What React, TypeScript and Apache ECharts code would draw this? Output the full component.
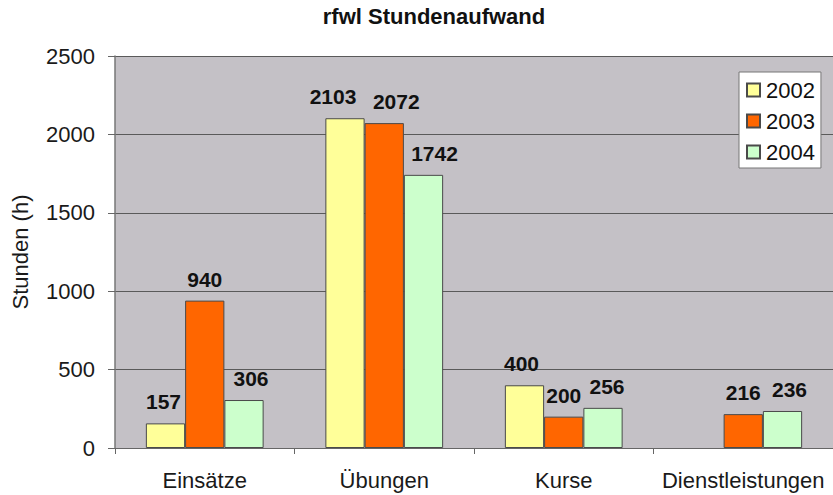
import React, { useEffect, useRef } from "react";
import * as echarts from "echarts";

const categories = ["Einsätze", "Übungen", "Kurse", "Dienstleistungen"];
const years = ["2002", "2003", "2004"];
const values2002: (number | null)[] = [157, 2103, 400, null];
const values2003: (number | null)[] = [940, 2072, 200, 216];
const values2004: (number | null)[] = [306, 1742, 256, 236];
const yTicks = [0, 500, 1000, 1500, 2000, 2500];

const colors = ["#ffff99", "#ff6600", "#ccffcc"];
const labelNudge = [
  [-2, -12, -3, 0],
  [0, 12, 0, 0],
  [7, 11, 4, 7],
];

const FONT = "'Liberation Sans', Arial, sans-serif";

export default function App() {
  const ref = useRef<HTMLDivElement>(null);
  useEffect(() => {
    if (!ref.current) return;
    const chart = echarts.init(ref.current, null, { renderer: "svg" });
    const seriesValues = [values2002, values2003, values2004];
    chart.setOption({
      animation: false,
      backgroundColor: "#ffffff",
      textStyle: { fontFamily: FONT },
      graphic: [
        {
          type: "text",
          x: 434,
          y: 5,
          style: {
            text: "rfwl Stundenaufwand",
            fontFamily: FONT,
            fontSize: 22,
            fontWeight: "bold",
            fill: "#111",
            textAlign: "center",
            textVerticalAlign: "top",
          },
        },
      ],
      legend: {
        orient: "vertical",
        left: 739,
        top: 72,
        padding: [7, 6, 5, 7],
        itemGap: 9,
        itemWidth: 13,
        itemHeight: 13,
        icon: "rect",
        backgroundColor: "#ffffff",
        borderColor: "#777777",
        borderWidth: 1,
        textStyle: { fontFamily: FONT, fontSize: 22, color: "#111", padding: [0, 0, 0, 1] },
        data: years,
      },
      grid: {
        left: 115,
        top: 56,
        right: -3,
        bottom: 47,
        show: true,
        backgroundColor: "#c4c1c6",
        borderWidth: 0,
        containLabel: false,
      },
      xAxis: {
        type: "category",
        data: categories,
        axisLine: { lineStyle: { color: "#666", width: 1 } },
        axisTick: { show: true, length: 6, lineStyle: { color: "#666" } },
        axisLabel: { interval: 0, fontFamily: FONT, fontSize: 22, color: "#1a1a1a", margin: 21 },
      },
      yAxis: {
        type: "value",
        min: yTicks[0],
        max: yTicks[yTicks.length - 1],
        interval: 500,
        name: "Stunden (h)",
        nameLocation: "middle",
        nameGap: 84,
        nameTextStyle: { fontFamily: FONT, fontSize: 22, color: "#1a1a1a" },
        axisLine: { show: true, lineStyle: { color: "#777", width: 1.5 } },
        axisTick: { show: true, length: 7, lineStyle: { color: "#666" } },
        axisLabel: {
          fontFamily: FONT,
          fontSize: 22,
          color: "#1a1a1a",
          margin: 20,
          formatter: (v: number) => String(v),
        },
        splitLine: { show: true, lineStyle: { color: "#5a5a5a", width: 1 } },
      },
      series: years.map((y, si) => ({
        name: y,
        type: "bar",
        barGap: "0%",
        barCategoryGap: "34.4%",
        itemStyle: { color: colors[si], borderColor: "#4a4a4a", borderWidth: 1 },
        data: seriesValues[si].map((v, ci) => ({
          value: v,
          label: { offset: [labelNudge[si][ci], 0] },
        })),
        label: {
          show: true,
          position: "top",
          distance: 11,
          fontFamily: FONT,
          fontSize: 21,
          fontWeight: "bold",
          color: "#111",
          formatter: (p: any) => (p.value == null ? "" : String(p.value)),
        },
      })),
    });
    return () => chart.dispose();
  }, []);
  return (
    <div
      ref={ref}
      style={{ position: "absolute", left: 0, top: 0, width: 833, height: 495 }}
    />
  );
}
